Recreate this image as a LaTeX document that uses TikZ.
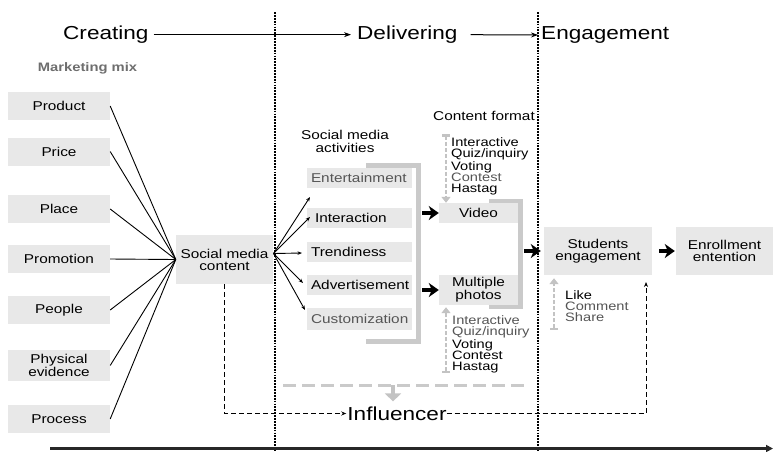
\documentclass[tikz,border=0pt]{standalone}
\usepackage{fontspec}
\setmainfont{Liberation Sans}[FakeStretch=1.2]
\usetikzlibrary{arrows.meta}
\definecolor{boxfill}{RGB}{232,232,232}
\definecolor{brk}{RGB}{202,202,202}
\definecolor{gdcol}{RGB}{195,195,195}
\definecolor{softtext}{RGB}{85,85,85}
\definecolor{mixcol}{RGB}{110,110,110}
\newcommand\smallfnt{\fontsize{12.8}{12}\selectfont}
\newcommand\bigfnt{\fontsize{18.8}{20}\selectfont}
\begin{document}
\begin{tikzpicture}[x=1pt,y=-1pt,
  lbox/.style={fill=boxfill, inner sep=0pt, align=center, minimum width=102pt, minimum height=28pt, font=\smallfnt},
  cbox/.style={fill=boxfill, inner sep=0pt, align=center, font=\smallfnt},
  abox/.style={fill=boxfill, inner sep=0pt, align=left, text width=97pt, minimum width=105pt, minimum height=20pt, font=\smallfnt},
  plaintxt/.style={inner sep=0pt, align=center, font=\smallfnt},
  listtxt/.style={inner sep=0pt, align=left, anchor=north west, font=\fontsize{12.2}{11.25}\selectfont},
  bigtxt/.style={inner sep=0pt, font=\bigfnt},
  flowarrow/.style={line width=1pt, -{Stealth[length=7pt,width=5pt]}},
  thinline/.style={line width=0.9pt},
  fanarrow/.style={line width=0.9pt, -{Stealth[length=4.5pt,width=3.5pt]}},
  fatarrow/.style={line width=3.6pt, -{Stealth[length=10pt,width=14pt,inset=3pt]}},
  bracketline/.style={draw=brk, line width=5pt},
  gdash/.style={draw=gdcol, line width=2.5pt, dash pattern=on 4pt off 2pt, {Bar[width=8pt,line width=2.5pt]}-{Triangle[length=6pt,width=9pt]}},
  bdash/.style={line width=0.9pt, dash pattern=on 5pt off 3pt, -{Stealth[length=5pt,width=4pt]}},
  sepline/.style={line width=1.15pt, dash pattern=on 1.8pt off 1.1pt},
]
\useasboundingbox (0,0) rectangle (776,451);

% separators
\coordinate (s1t) at (275,12); \coordinate (s1b) at (275,451);
\coordinate (s2t) at (538,12); \coordinate (s2b) at (538,451);
\draw[sepline] (s1t) -- (s1b);
\draw[sepline] (s2t) -- (s2b);

% top flow
\node[bigtxt, anchor=base west] (creating) at (63,39.5) {Creating};
\node[bigtxt, anchor=base west] (delivering) at (357,39.5) {Delivering};
\node[bigtxt, anchor=base west] (engage) at (541,39.5) {Engagement};
\draw[flowarrow, shorten <=5pt, shorten >=6pt] (creating.east) -- (delivering.west);
\draw[flowarrow, shorten <=13pt, shorten >=3pt] (delivering.east) -- (engage.west);

% marketing mix
\node[inner sep=0pt, font=\fontsize{12.3}{13}\selectfont\bfseries, text=mixcol] (mix) at (87.5,68) {Marketing mix};
\node[lbox] (product) at (59,106) {Product};
\node[lbox] (price) at (59,151.5) {Price};
\node[lbox] (place) at (59,209) {Place};
\node[lbox] (promotion) at (59,259) {Promotion};
\node[lbox] (people) at (59,310) {People};
\node[lbox, minimum height=31pt, font=\fontsize{12.8}{12.5}\selectfont] (physical) at (59,365.5) {Physical\\evidence};
\node[lbox] (process) at (59,419) {Process};

\node[cbox, minimum width=97pt, minimum height=49pt] (smc) at (224.5,259.5) {Social media\\content};

\foreach \n in {product,price,place,promotion,people,physical,process}
  \draw[thinline] (\n.east) -- (smc.west);

% social media activities
\node[plaintxt, font=\fontsize{12.8}{13}\selectfont] (sma) at (345,141.5) {Social media\\activities};
\draw[bracketline] (366,165) -- (418,165) -- (418,341) -- (366,341);
\node[abox, text=softtext] (ent) at (359.5,178) {Entertainment};
\node[abox] (inter) at (359.5,218) {\hspace*{4pt}Interaction};
\node[abox] (trend) at (359.5,252) {Trendiness};
\node[abox] (adv) at (359.5,285) {Advertisement};
\node[abox, minimum height=22pt, text=softtext] (cust) at (359.5,319) {Customization};

\coordinate (fan) at (273.5,253.5);
\coordinate (t1) at (310,197);
\coordinate (t2) at (310,217);
\coordinate (t3) at (302,253);
\coordinate (t4) at (303,283);
\coordinate (t5) at (305,310);
\foreach \t in {t1,t2,t3,t4,t5}
  \draw[fanarrow] (fan) -- (\t);

% content format
\node[plaintxt] (cf) at (484,116) {Content format};
\draw[bracketline] (489,201.5) -- (520.5,201.5) -- (520.5,306.5) -- (489,306.5);
\node[cbox, minimum width=79pt, minimum height=20pt] (vid) at (478.5,213) {Video};
\node[cbox, minimum width=79pt, minimum height=30pt, font=\fontsize{12.8}{11}\selectfont] (mp) at (478.5,290) {Multiple\\photos};

\node[listtxt] (ulist) at (451,137.5) {Interactive\\Quiz/inquiry\\Voting\\\textcolor{softtext}{Contest}\\Hastag};
\node[listtxt] (llist) at (452,315.5) {\textcolor{softtext}{Interactive}\\\textcolor{softtext}{Quiz/inquiry}\\Voting\\Contest\\Hastag};

\coordinate (ua) at (446,134);
\draw[gdash] (ua) -- (ua |- vid.north);
\coordinate (la) at (446,373);
\draw[gdash, shorten >=2pt] (la) -- (la |- mp.south);

\coordinate (b1a) at (422,213);
\coordinate (b1b) at (422,290);
\draw[fatarrow] (b1a) -- (vid.west);
\draw[fatarrow] (b1b) -- (mp.west);

% engagement
\node[cbox, minimum width=108pt, minimum height=48pt, font=\fontsize{12.8}{11.5}\selectfont] (se) at (598,251) {Students\\engagement};
\node[cbox, minimum width=97pt, minimum height=48pt, font=\fontsize{12.8}{11.5}\selectfont] (ee) at (724.5,251) {Enrollment\\entention};
\coordinate (b2) at (524,251);
\draw[fatarrow, shorten >=3pt] (b2) -- (se.west);
\draw[fatarrow, shorten <=7pt, shorten >=1pt] (se.east) -- (ee.west);

\node[listtxt, font=\fontsize{12.2}{11}\selectfont] (lcs) at (565,290) {Like\\\textcolor{softtext}{Comment}\\\textcolor{softtext}{Share}};
\coordinate (lk) at (554,330);
\draw[gdash, shorten >=3pt] (lk) -- (lk |- se.south);

% influencer
\coordinate (gl1) at (283,385);
\coordinate (gl2) at (530,385);
\draw[draw=brk, line width=3pt, dash pattern=on 13pt off 6pt] (gl1) -- (gl2);
\node[bigtxt] (infl) at (397,413.5) {Influencer};
\coordinate (gd) at (393,385);
\draw[draw=gdcol, line width=4.5pt, -{Triangle[length=8pt,width=16pt]}, shorten >=5pt] (gd) -- (gd |- infl.north);

\draw[bdash, shorten >=1pt] (smc.south) |- (infl.west);
\coordinate (seup) at (646,282);
\draw[bdash] (infl.east) -| (seup);

% axis
\coordinate (ax1) at (50,448.5);
\coordinate (ax2) at (773,448.5);
\draw[line width=2.5pt, draw={rgb,255:red,40;green,40;blue,40}, -{Triangle[length=7pt,width=7pt]}] (ax1) -- (ax2);
\end{tikzpicture}
\end{document}
